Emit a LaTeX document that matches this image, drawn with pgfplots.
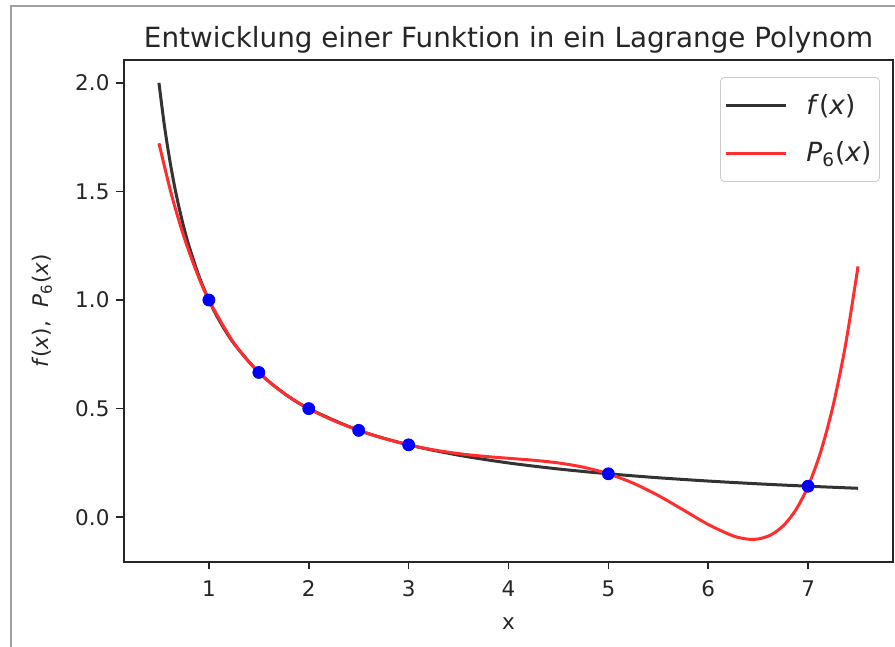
\documentclass[border=0pt]{standalone}
\usepackage{pgfplots}
\pgfplotsset{compat=1.18}
\usepackage{fontspec}
\setmainfont{DejaVu Sans}
\definecolor{fcol}{RGB}{51,51,51}
\definecolor{pcol}{RGB}{255,45,45}
\definecolor{frame}{RGB}{160,160,160}
\begin{document}
\begin{tikzpicture}
\begin{axis}[
  at={(0,0)}, anchor=south west,
  scale only axis, width=384.5pt, height=251pt,
  xmin=0.15, xmax=7.85, ymin=-0.206, ymax=2.105,
  xtick={1,2,3,4,5,6,7}, ytick={0,0.5,1,1.5,2},
  /pgf/number format/assume math mode=true,
  yticklabel style={/pgf/number format/.cd, fixed, fixed zerofill, precision=1},
  xticklabel style={yshift=-2pt, /pgf/number format/.cd, fixed, precision=0},
  tick align=outside, major tick length=3.75pt, tick pos=left,
  axis line style={line width=0.85pt, black!85},
  every tick/.style={black!85, line width=0.85pt},
  tick label style={font=\fontsize{10.75}{12}\selectfont, text=black!85},
  title={Entwicklung einer Funktion in ein Lagrange Polynom},
  title style={font=\fontsize{13.9}{16}\selectfont, text=black!85, at={(axis description cs:0.5,1)}, anchor=base, yshift=0pt},
  xlabel={x},
  xlabel style={font=\fontsize{10.75}{12}\selectfont, text=black!85, at={(axis description cs:0.5,-0.1235)}, anchor=center},
  ylabel={\textit{f}(\textit{x}),\ \ \textit{P}\textsubscript{6}(\textit{x})},
  ylabel style={font=\fontsize{10.75}{12}\selectfont, text=black!85, at={(axis description cs:-0.1066,0.5)}, anchor=center, rotate=0},
  legend style={at={(0.983,0.966)}, anchor=north east, draw=black!20, rounded corners=2pt,
    font=\fontsize{13.2}{15}\selectfont, text=black!85, row sep=8pt, inner xsep=2pt, inner ysep=6.5pt},
  legend cell align=left,
  legend image code/.code={\draw[#1] (0pt,0pt) -- (30pt,0pt); \path (37.5pt,0pt);},
]
\addplot[only marks, mark=*, mark size=3pt, color=blue, forget plot] coordinates {
  (1,1) (1.5,0.66667) (2,0.5) (2.5,0.4) (3,0.33333) (5,0.2) (7,0.14286)};
\addplot[fcol, line width=1.5pt, smooth] coordinates {
  (0.5,2) (0.55,1.81818) (0.6,1.66667) (0.65,1.53846) (0.7,1.42857) (0.75,1.33333)
  (0.8,1.25) (0.9,1.11111) (1,1) (1.1,0.90909) (1.25,0.8) (1.5,0.66667) (1.75,0.57143)
  (2,0.5) (2.5,0.4) (3,0.33333) (3.5,0.28571) (4,0.25) (4.5,0.22222) (5,0.2)
  (5.5,0.18182) (6,0.16667) (6.5,0.15385) (7,0.14286) (7.5,0.13333)};
\addlegendentry{\textit{f}(\textit{x})}
\addplot[pcol, line width=1.5pt, smooth] coordinates {
  (0.5,1.72143) (0.625,1.48615) (0.75,1.29183) (0.875,1.13173) (1,1) (1.25,0.80225)
  (1.5,0.66667) (1.75,0.57089) (2,0.5) (2.25,0.44477) (2.5,0.4) (2.75,0.36318)
  (3,0.33333) (3.25,0.31006) (3.5,0.29286) (3.75,0.28063) (4,0.27143) (4.25,0.26240)
  (4.5,0.25) (4.75,0.23037) (5,0.2) (5.25,0.15656) (5.5,0.1) (5.75,0.03383)
  (6,-0.03333) (6.25,-0.08604) (6.4,-0.10105) (6.5,-0.1) (6.625,-0.08192)
  (6.75,-0.03994) (6.875,0.03248) (7,0.14286) (7.125,0.29983) (7.25,0.51318)
  (7.375,0.79401) (7.5,1.15476)};
\addlegendentry{\textit{P}\textsubscript{6}(\textit{x})\hspace{4.5pt}}
\end{axis}
\draw[frame, line width=1pt] (-56.25pt,-42.5pt) -- (-56.25pt,277.75pt) -- (385.5pt,277.75pt);
\pgfresetboundingbox
\path (-62pt,-42.5pt) rectangle (385.5pt,281pt);
\end{tikzpicture}
\end{document}
